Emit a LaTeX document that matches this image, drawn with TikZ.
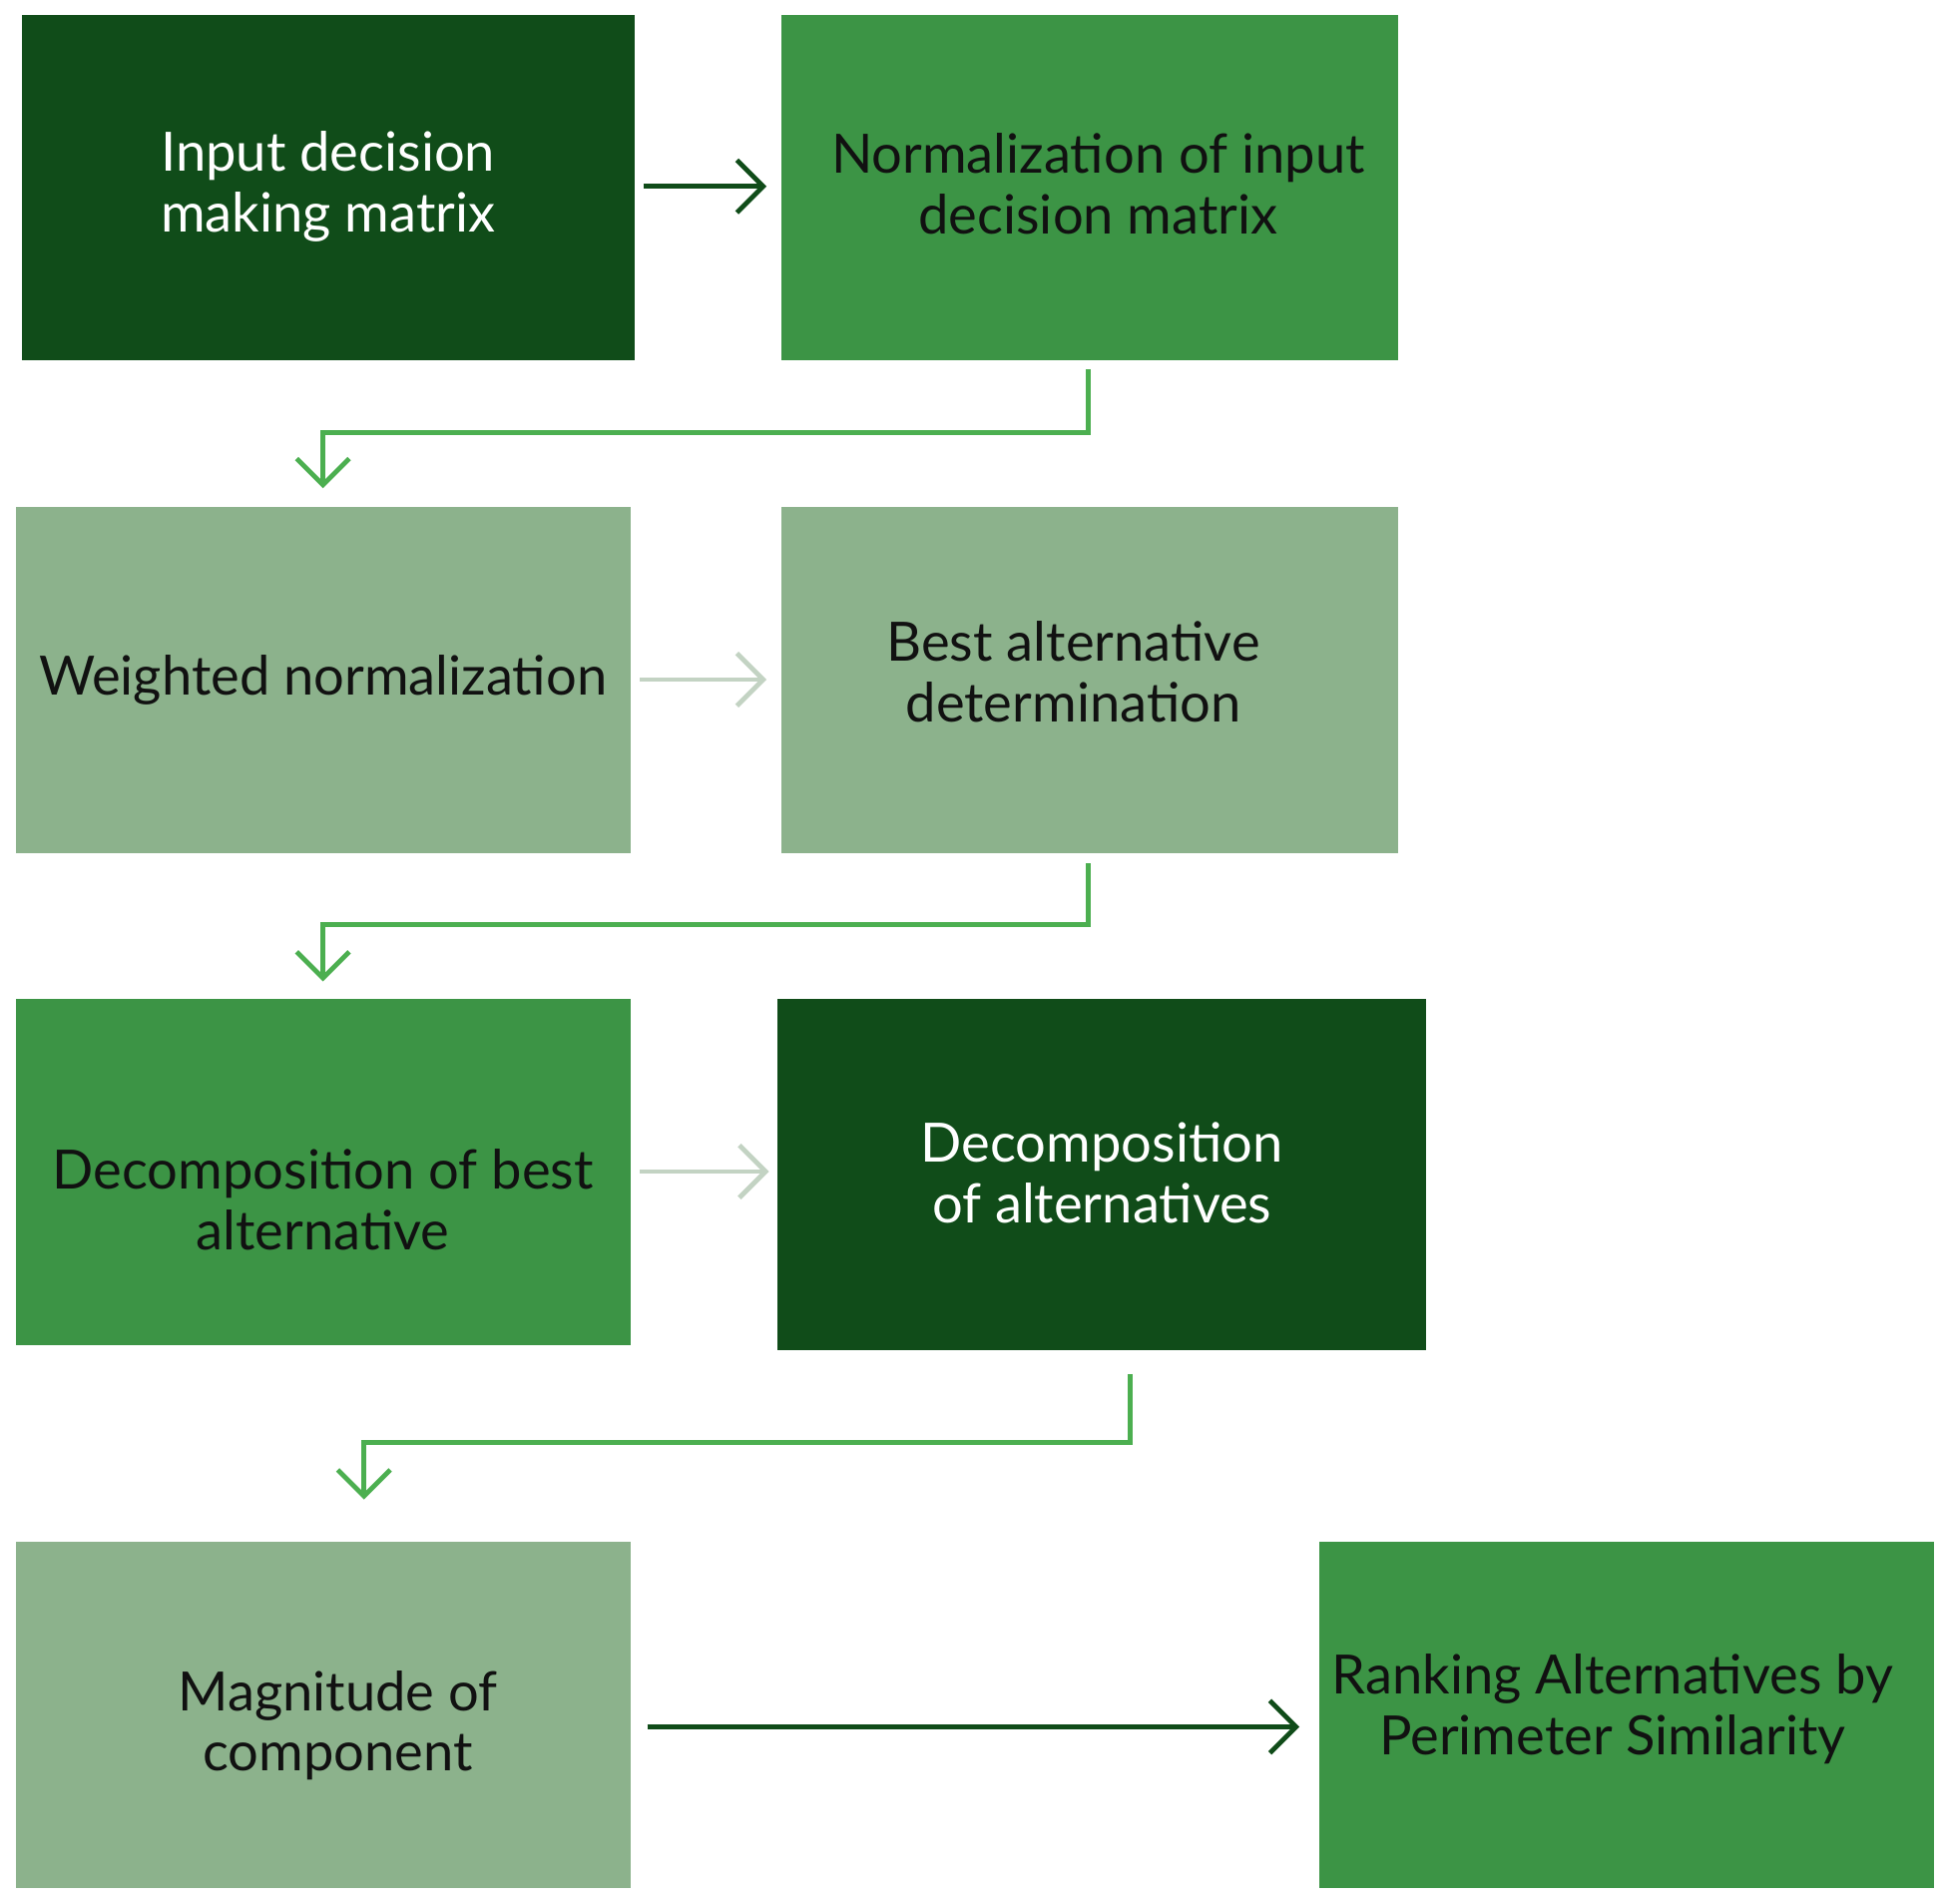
\documentclass[tikz,border=0pt]{standalone}
\usepackage{fontspec}
\setmainfont{Lato}
\usetikzlibrary{arrows.meta}
\definecolor{dk}{HTML}{104C19}
\definecolor{md}{HTML}{3C9445}
\definecolor{lt}{HTML}{8CB28C}
\definecolor{ln}{HTML}{4CAF50}
\definecolor{gr}{HTML}{C3D3C3}
\definecolor{tx}{HTML}{111111}
\begin{document}
\begin{tikzpicture}[x=0.01cm,y=-0.01cm,
  box/.style={draw=none,inner sep=0pt,align=center,font=\fontsize{12.4}{13.9}\selectfont},
  ar/.style={-{Straight Barb[length=6pt,width=12pt]},line width=1.1pt}]
\useasboundingbox (0,0) rectangle (1568,1532);
\fill[dk] (18,12) rectangle (511,290);
\node[box,text=white] (a) at (264,150) {Input decision\\making matrix};
\fill[md] (629,12) rectangle (1125,290);
\node[box,text=tx] (b) at (884,148) {Normalization of input\\decision matrix};
\fill[lt] (13,408) rectangle (508,687);
\node[box,text=tx] (c) at (260,547) {Weighted normalization};
\fill[lt] (629,408) rectangle (1125,687);
\node[box,text=tx] (d) at (864,541) {Best alternative\\determination};
\fill[md] (13,804) rectangle (508,1083);
\node[box,text=tx] (e) at (260,966) {Decomposition of best\\alternative};
\fill[dk] (626,804) rectangle (1148,1087);
\node[box,text=white] (f) at (887,944) {Decomposition\\of alternatives};
\fill[lt] (13,1241) rectangle (508,1520);
\node[box,text=tx] (g) at (272,1389) {Magnitude of\\component};
\fill[md] (1062,1241) rectangle (1557,1520);
\node[box,text=tx] (h) at (1298,1376) {Ranking Alternatives by\\Perimeter Similarity};
\coordinate (a1) at (518,150); \coordinate (b1) at (617,150);
\draw[ar,dk] (a1) -- (b1);
\coordinate (b2) at (876,297); \coordinate (c2) at (260,393);
\draw[ar,ln] (b2) -- (876,348) -- (260,348) -- (c2);
\coordinate (c1) at (515,547); \coordinate (d1) at (617,547);
\draw[ar,gr] (c1) -- (d1);
\coordinate (d2) at (876,695); \coordinate (e2) at (260,790);
\draw[ar,ln] (d2) -- (876,744) -- (260,744) -- (e2);
\coordinate (e1) at (515,943); \coordinate (f1) at (619,943);
\draw[ar,gr] (e1) -- (f1);
\coordinate (f2) at (910,1106); \coordinate (g2) at (293,1207);
\draw[ar,ln] (f2) -- (910,1161) -- (293,1161) -- (g2);
\coordinate (g1) at (521,1390); \coordinate (h1) at (1046,1390);
\draw[ar,dk] (g1) -- (h1);
\end{tikzpicture}
\end{document}
